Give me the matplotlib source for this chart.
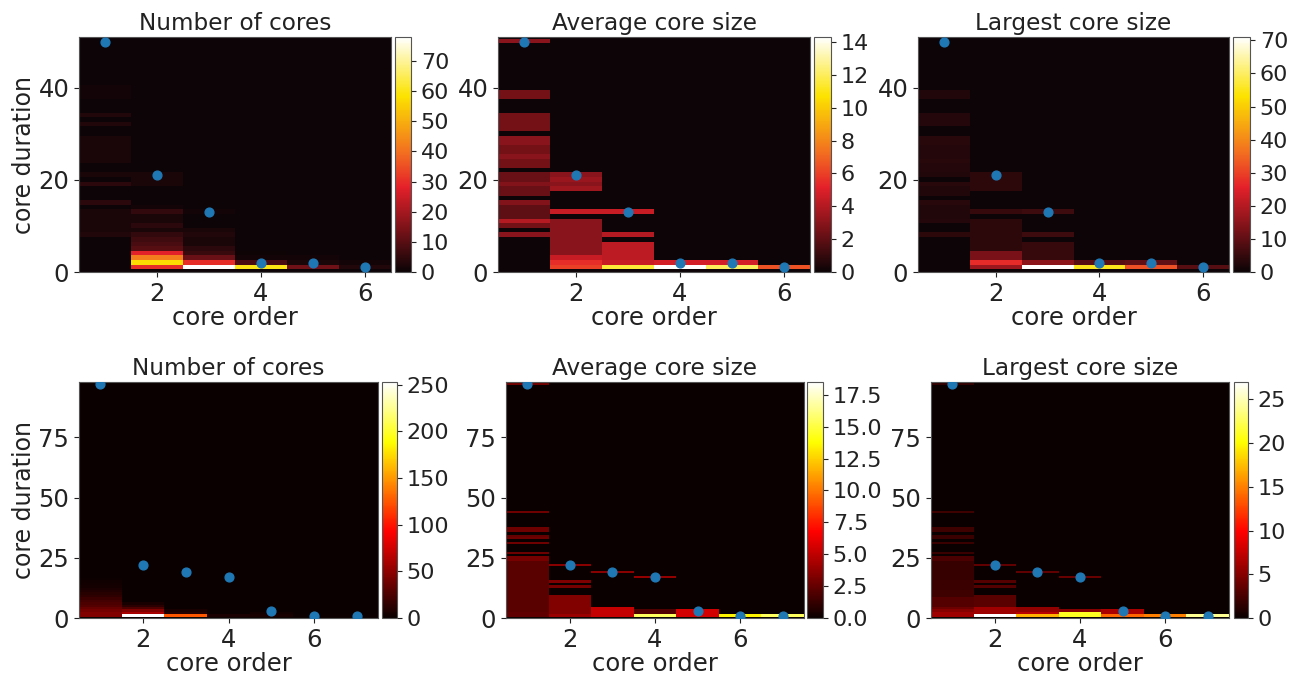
import numpy as np
import matplotlib
matplotlib.use('Agg')
import matplotlib.pyplot as plt
from matplotlib.colors import LinearSegmentedColormap

# duration -> value, one dict per core order
top_count = [
    {8: 3, 9: 2, 10: 2, 11: 2, 12: 2, 13: 2, 15: 4, 19: 4, 21: 2, 24: 2, 25: 2, 26: 2, 27: 2, 28: 2, 29: 2,
     32: 3, 34: 3, 38: 1, 39: 1, 40: 1},
    {1: 30, 2: 57, 3: 42, 4: 28, 5: 10, 6: 8, 7: 7, 8: 5, 9: 2, 10: 4, 11: 2, 12: 2, 13: 5, 14: 1, 19: 2, 20: 2, 21: 2},
    {1: 78, 2: 30, 3: 12, 4: 6, 5: 4, 6: 2, 7: 2, 8: 3, 9: 2, 13: 1},
    {1: 60, 2: 8, 3: 1, 4: 0.5},
    {1: 13, 2: 2, 3: 1},
    {1: 3, 2: 1},
]
top_avg = [
    {8: 3, 10: 2.5, 11: 4, 12: 2, 13: 2, 14: 2, 15: 2.8, 17: 2.2, 18: 2.2, 19: 2.8, 20: 2.2, 21: 2.2,
     23: 2.5, 24: 2.5, 25: 3, 26: 2.5, 27: 2.5, 28: 3, 29: 3, 31: 2.5, 32: 2.5, 33: 2.5, 34: 2.5,
     38: 2.5, 39: 2.5, 50: 3},
    {1: 6, 2: 5.5, 3: 4.5, 4: 3, 5: 3, 6: 3, 7: 3, 8: 3, 9: 3, 10: 3, 11: 3, 13: 4.5, 18: 3.5, 19: 3, 20: 3.4, 21: 3},
    {1: 11.5, 2: 4.5, 3: 4.2, 4: 4.2, 5: 4.2, 6: 4.2, 8: 4, 13: 4.5},
    {1: 14.3, 2: 4.8},
    {1: 12, 2: 4.8},
    {1: 6.5},
]
top_max = [
    {8: 4, 11: 3, 12: 2.5, 13: 2.5, 14: 2.5, 15: 3.5, 17: 2.5, 18: 2.5, 19: 3.5, 21: 2.5, 22: 3, 23: 3, 24: 3.5, 25: 3,
     26: 3, 27: 3, 28: 3.5, 29: 3.5, 32: 3, 33: 3, 34: 3, 38: 2.5, 39: 2.5},
    {1: 17, 2: 27, 3: 13, 4: 13, 5: 4, 6: 4, 7: 4, 8: 4, 9: 4, 10: 4, 11: 4, 13: 5, 18: 4, 19: 4, 20: 4, 21: 4},
    {1: 71, 2: 15, 3: 5, 4: 5, 5: 5, 6: 5, 8: 6, 13: 6},
    {1: 55, 2: 9},
    {1: 32, 2: 10},
    {1: 9},
]
bottom_count = [
    {1: 45, 2: 45, 3: 40, 4: 35, 5: 28, 6: 25, 7: 22, 8: 18, 9: 14, 10: 11, 11: 8, 12: 6, 13: 4, 14: 3, 15: 2,
     16: 1},
    {1: 253, 2: 60, 3: 45, 4: 25, 5: 12, 6: 5},
    {1: 125, 2: 10, 3: 5},
    {1: 6},
    {1: 5, 2: 3},
    {1: 1},
    {1: 1},
]
bottom_avg = [
    {1: 2.4, 2: 2.4, 3: 2.2, 4: 2.2, 5: 2.2, 6: 2.2, 7: 2.2, 8: 2.2, 9: 2.2, 10: 2.2, 11: 2.2, 12: 2.2, 13: 2.2,
     14: 2.2, 15: 2.2, 16: 2.2, 17: 2.2, 18: 2.2, 19: 2.2, 20: 2.2, 21: 2.2, 22: 2.2, 23: 2.2, 24: 3, 25: 3,
     27: 2.8, 31: 2.8, 33: 2.8, 34: 2.5, 36: 2.8, 37: 2.8, 44: 2.8, 97: 2.8},
    {1: 4, 2: 3.3, 3: 3.3, 4: 3.3, 5: 3.3, 6: 3.3, 7: 3.3, 8: 3.3, 9: 3.3, 13: 3, 15: 3.2, 22: 3.5},
    {1: 5.2, 2: 5.2, 3: 5.2, 4: 5.2, 19: 3.5},
    {1: 15.5, 2: 2, 3: 2, 17: 3.8},
    {1: 5.5, 2: 5.5, 3: 5.5},
    {1: 13.5},
    {1: 15.5},
]
bottom_max = [
    {1: 6, 2: 6, 3: 5, 4: 4, 5: 3, 6: 3, 7: 3, 8: 3, 9: 2.2, 10: 2.2, 11: 2.2, 12: 2, 13: 2, 14: 2, 15: 2, 16: 1.8,
     17: 1.8, 18: 1.8, 19: 1.8, 20: 1.8, 21: 1.8, 22: 1.8, 23: 1.8, 24: 2.6, 25: 2.6, 27: 2, 31: 2, 33: 2, 34: 2,
     36: 2.2, 37: 2.2, 44: 2.2, 97: 1.6},
    {1: 27, 2: 6, 3: 6, 4: 6, 5: 3.2, 6: 3.2, 7: 3.2, 8: 3.2, 9: 3.2, 13: 3, 15: 3, 22: 3.5},
    {1: 17, 2: 7, 3: 5.5, 4: 5.5, 19: 3.5},
    {1: 21, 2: 21, 3: 5, 17: 3.8},
    {1: 14, 2: 6.5, 3: 6.5},
    {1: 15},
    {1: 24},
]

top_orders = [1, 2, 3, 4, 5, 6]
top_durations = [50, 21, 13, 2, 2, 1]
bottom_orders = [1, 2, 3, 4, 5, 6, 7]
bottom_durations = [97, 22, 19, 17, 3, 1, 1]

titles = ['Number of cores', 'Average core size', 'Largest core size']
top_vmax = [78, 14.3, 71]
bottom_vmax = [253, 18.5, 27]
top_cbar_ticks = [np.arange(0, 71, 10), np.arange(0, 15, 2), np.arange(0, 71, 10)]
bottom_cbar_ticks = [np.arange(0, 251, 50), np.arange(0, 18, 2.5), np.arange(0, 26, 5)]

W, H = 1299, 676
TITLE_FS = 16.7
XLABEL_FS = 17.5
YLABEL_FS = 17
TICK_FS = 17.5
CBAR_FS = 16
TEXT = '#222222'
plt.rcParams.update({'text.color': TEXT, 'axes.labelcolor': TEXT, 'xtick.color': TEXT,
                     'ytick.color': TEXT, 'axes.edgecolor': '#555555'})

# the top row prints with a slightly crimson version of hot
top_cmap = LinearSegmentedColormap.from_list('tophot', [(0, '#0c0406'), (0.36, '#e4202a'), (0.5, '#f26a21'),
                                                        (0.75, '#fce300'), (1, '#ffffff')])


def px_axes(fig, x0, x1, y0, y1):
    return fig.add_axes([x0 / W, 1 - y1 / H, (x1 - x0) / W, (y1 - y0) / H])


def to_grid(columns, max_d):
    grid = np.zeros((max_d + 1, len(columns)))
    for j, col in enumerate(columns):
        for d, v in col.items():
            grid[d, j] = v
    return grid


def panel(fig, box, cbox, columns, orders, durations, vmax, cmap, title, yticks, ylim, cticks, ylabel=False):
    ax = px_axes(fig, *box)
    cax = px_axes(fig, *cbox)
    max_d = max(durations) + 1
    grid = to_grid(columns, max_d)
    xedges = np.arange(len(columns) + 1) + 0.5
    yedges = np.arange(max_d + 2) - 0.4
    im = ax.pcolormesh(xedges, yedges, grid, cmap=cmap, vmin=0, vmax=vmax)
    ax.scatter(orders, durations, s=40, color='#1f77b4', zorder=3)
    ax.set_xlim(0.5, len(columns) + 0.5)
    ax.set_ylim(*ylim)
    ax.set_xticks([2, 4, 6])
    ax.set_yticks(yticks)
    ax.tick_params(labelsize=TICK_FS)
    ax.set_xlabel('core order', fontsize=XLABEL_FS, labelpad=0.5)
    if ylabel:
        ax.set_ylabel('core duration', fontsize=YLABEL_FS, labelpad=2)
    ax.set_title(title, fontsize=TITLE_FS, pad=5)
    cb = fig.colorbar(im, cax=cax)
    cb.set_ticks(cticks)
    cb.ax.tick_params(labelsize=CBAR_FS)
    return ax


fig = plt.figure(figsize=(W / 100, H / 100), dpi=100)

top_boxes = [(79, 391), (498, 810), (918, 1229)]
top_cboxes = [(395, 411), (814, 831), (1233, 1250)]
bottom_boxes = [(79, 378), (506, 804), (931, 1229)]
bottom_cboxes = [(382, 397), (807, 823), (1234, 1248)]

for i, cols in enumerate([top_count, top_avg, top_max]):
    panel(fig, top_boxes[i] + (37, 272), top_cboxes[i] + (37, 272), cols, top_orders, top_durations,
          top_vmax[i], top_cmap, titles[i], [0, 20, 40], (0, 51), top_cbar_ticks[i], ylabel=i == 0)

for i, cols in enumerate([bottom_count, bottom_avg, bottom_max]):
    panel(fig, bottom_boxes[i] + (382, 618), bottom_cboxes[i] + (382, 618), cols, bottom_orders, bottom_durations,
          bottom_vmax[i], 'hot', titles[i], [0, 25, 50, 75], (0, 98), bottom_cbar_ticks[i], ylabel=i == 0)

fig.savefig('out.png', dpi=100)
